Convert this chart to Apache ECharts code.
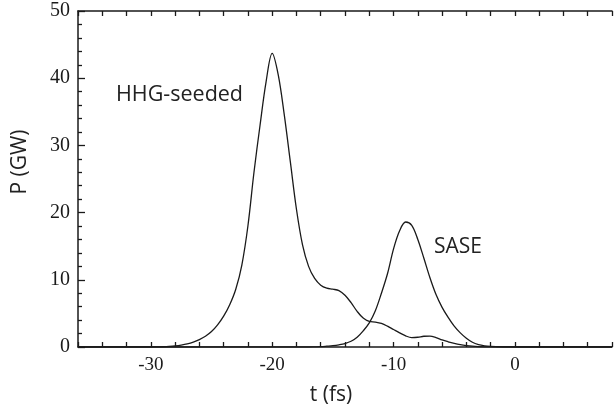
<!DOCTYPE html>
<html>
<head>
<meta charset="utf-8">
<script src="https://cdn.jsdelivr.net/npm/echarts@6/dist/echarts.min.js"></script>
<style>
html,body{margin:0;padding:0;background:#fff;}
#chart{width:615px;height:408px;}
</style>
</head>
<body>
<div id="chart"></div>
<script>
// time axis (fs)
const timeFs = [-36, -30, -29.5, -29, -28.5, -28, -27.5, -27, -26.5, -26, -25.5, -25, -24.5, -24, -23.5, -23, -22.5, -22, -21.5, -21, -20.5, -20, -19.5, -19, -18.5, -18, -17.5, -17, -16.5, -16, -15.5, -15, -14.5, -14, -13.5, -13, -12.5, -12, -11.5, -11, -10.5, -10, -9.5, -9, -8.5, -8, -7.5, -7, -6.5, -6, -5.5, -5, -4.5, -4, -3.5, -3, -2.5, -2, -1.5, -1, -0.5, 0, 8];
// HHG-seeded power (GW)
const hhgPower = [0, 0, 0.02, 0.04, 0.08, 0.15, 0.27, 0.45, 0.72, 1.1, 1.6, 2.3, 3.3, 4.6, 6.3, 8.6, 12.2, 18.0, 26.0, 33.0, 39.5, 43.7, 40.5, 34.5, 27.5, 20.5, 15.2, 12.0, 10.2, 9.2, 8.75, 8.6, 8.4, 7.7, 6.6, 5.3, 4.3, 3.8, 3.7, 3.5, 3.1, 2.6, 2.1, 1.65, 1.4, 1.45, 1.6, 1.62, 1.4, 1.05, 0.78, 0.55, 0.36, 0.22, 0.12, 0.06, 0.03, 0.02, 0.01, 0, 0, 0, 0];
// SASE power (GW)
const sasePower = [0, 0, 0, 0, 0, 0, 0, 0, 0, 0, 0, 0, 0, 0, 0, 0, 0, 0, 0, 0, 0, 0, 0, 0, 0, 0, 0, 0, 0.02, 0.05, 0.12, 0.2, 0.33, 0.52, 0.85, 1.45, 2.4, 3.6, 5.4, 8.0, 10.9, 14.6, 17.3, 18.6, 18.1, 16.0, 13.2, 10.3, 7.8, 5.9, 4.4, 3.1, 2.1, 1.3, 0.7, 0.35, 0.17, 0.08, 0.04, 0.02, 0.01, 0, 0];
// tick labels
const xMajorLabels = [-30, -20, -10, 0];
const yTickLabels = [0, 10, 20, 30, 40, 50];

const chart = echarts.init(document.getElementById('chart'), null, {renderer: 'canvas'});
const ink = '#1a1a1a';
const serif = '"Liberation Serif", "DejaVu Serif", serif';
const sans = '"Open Sans", "Noto Sans", sans-serif';

const pair = arr => timeFs.map((t, i) => [t, arr[i]]);

chart.setOption({
  animation: false,
  backgroundColor: '#fff',
  grid: {left: 78, top: 11, width: 546, height: 336, containLabel: false},
  xAxis: [{
    type: 'value', min: -36, max: 8, interval: 2, position: 'bottom',
    axisLine: {show: true, onZero: false, lineStyle: {color: ink, width: 1.5}},
    axisTick: {show: true, inside: true, length: 5, lineStyle: {color: ink, width: 1.3}},
    axisLabel: {
      show: true, margin: 9, color: ink, fontFamily: serif, fontSize: 19,
      formatter: v => (xMajorLabels.indexOf(v) >= 0 ? String(v) : '')
    },
    splitLine: {show: false}
  }, {
    type: 'value', min: -36, max: 8, interval: 2, position: 'top',
    axisLine: {show: true, onZero: false, lineStyle: {color: ink, width: 1.5}},
    axisTick: {show: true, inside: true, length: 5, lineStyle: {color: ink, width: 1.3}},
    axisLabel: {show: false},
    splitLine: {show: false}
  }],
  yAxis: [{
    type: 'value', min: 0, max: 50, interval: 10,
    axisLine: {show: true, onZero: false, lineStyle: {color: ink, width: 1.5}},
    axisTick: {show: true, inside: true, length: 7, lineStyle: {color: ink, width: 1.3}},
    minorTick: {show: true, splitNumber: 5, length: 4, lineStyle: {color: ink, width: 1.3}},
    axisLabel: {
      show: true, margin: 8, color: ink, fontFamily: serif, fontSize: 20,
      formatter: v => (yTickLabels.indexOf(v) >= 0 ? String(v) : '')
    },
    splitLine: {show: false}
  }],
  series: [{
    name: 'HHG-seeded', type: 'line', data: pair(hhgPower),
    showSymbol: false, smooth: 0.35,
    lineStyle: {color: ink, width: 1.3}, clip: true
  }, {
    name: 'SASE', type: 'line', data: pair(sasePower),
    showSymbol: false, smooth: 0.35,
    lineStyle: {color: ink, width: 1.3}, clip: true
  }],
  graphic: [
    {type: 'text', left: 116, top: 84, style: {text: 'HHG-seeded', fill: '#222', font: '21.5px ' + sans}},
    {type: 'text', left: 434, top: 237, style: {text: 'SASE', fill: '#222', font: '21px ' + sans}},
    {type: 'text', x: 331, y: 395, style: {text: 't (fs)', fill: '#222', font: '21px ' + sans, textAlign: 'center', textVerticalAlign: 'middle'}},
    {type: 'text', x: 20, y: 162, rotation: Math.PI / 2, style: {text: 'P (GW)', fill: '#222', font: '21px ' + sans, textAlign: 'center', textVerticalAlign: 'middle'}}
  ]
});
</script>
</body>
</html>
